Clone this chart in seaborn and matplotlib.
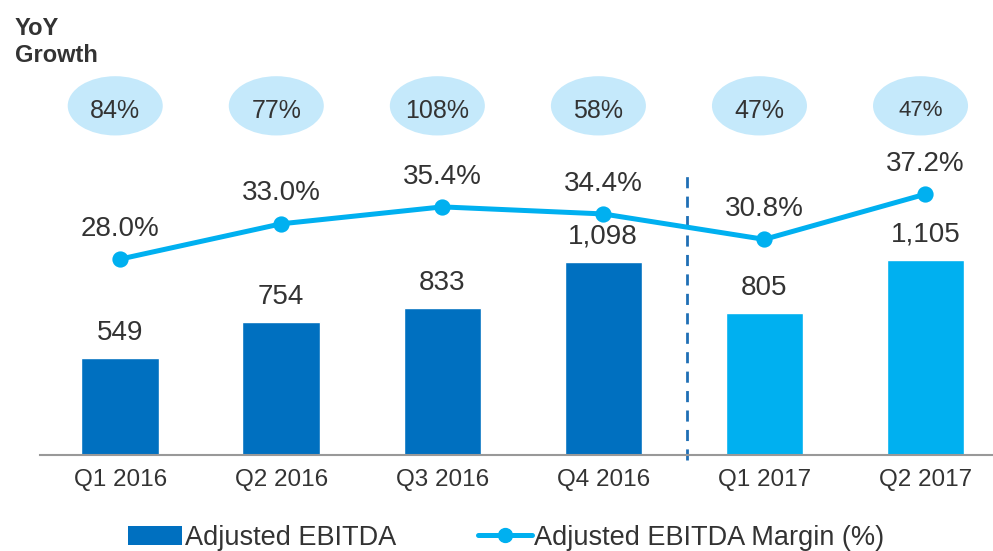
import matplotlib
matplotlib.use("Agg")
import matplotlib.pyplot as plt
import matplotlib.transforms as mtransforms
from matplotlib.patches import Ellipse, Patch
from matplotlib.lines import Line2D
import seaborn as sns

# Chart data
quarters = ["Q1 2016", "Q2 2016", "Q3 2016", "Q4 2016", "Q1 2017", "Q2 2017"]
ebitda = [549, 754, 833, 1098, 805, 1105]
margin = [28.0, 33.0, 35.4, 34.4, 30.8, 37.2]
yoy_growth = ["84%", "77%", "108%", "58%", "47%", "47%"]

dark_blue = "#0070C0"
light_blue = "#00B0F0"
bubble = "#C5E9FB"
text_col = "#333333"

sns.set_theme(style="white")
plt.rcParams["font.family"] = ["Liberation Sans", "DejaVu Sans"]

fig = plt.figure(figsize=(9.93, 5.51), dpi=100)
ax = fig.add_axes([0.0403, 0.1742, 0.9597, 0.7169])

bar_colors = [dark_blue] * 4 + [light_blue] * 2
sns.barplot(x=quarters, y=ebitda, hue=quarters, palette=bar_colors,
            legend=False, width=0.48, saturation=1, ax=ax)

ax2 = ax.twinx()
sns.pointplot(x=quarters, y=margin, order=quarters, color=light_blue,
              markers="o", markersize=9, linewidth=3.6, ax=ax2)

ax.set_ylim(0, 2242)
ax2.set_ylim(0.26, 56.2)
ax.set_xlim(-0.497, 5.42)
ax2.set_xlim(-0.497, 5.42)

# value labels
for i, v in enumerate(ebitda):
    ax.annotate(f"{v:,}", (i, v), xytext=(0, 9), textcoords="offset points",
                ha="center", va="bottom", fontsize=20, color=text_col)
for i, m in enumerate(margin):
    ax2.annotate(f"{m:.1f}%", (i, m), xytext=(0, 12.5), textcoords="offset points",
                 ha="center", va="bottom", fontsize=20, color=text_col)

# YoY growth bubbles
trans = mtransforms.blended_transform_factory(ax.transData, ax.transAxes)
for i, g in enumerate(yoy_growth):
    ax.add_patch(Ellipse((i - 0.03, 0.884), 0.59, 0.150, transform=trans,
                         facecolor=bubble, edgecolor="none", clip_on=False))
    size = 16 if i == 5 else 18
    ax.text(i - 0.03, 0.872, g, transform=trans, ha="center", va="center",
            fontsize=size, color=text_col)

# separator between 2016 and 2017
ax.plot([3.52, 3.52], [-30, 1590], linestyle=(0, (4, 3)), color="#1F6FB5",
        linewidth=2, clip_on=False)

for a in (ax, ax2):
    a.set_ylabel("")
    a.set_yticks([])
    for s in ["top", "left", "right"]:
        a.spines[s].set_visible(False)
ax2.spines["bottom"].set_visible(False)
ax.spines["bottom"].set_color("#999999")
ax.spines["bottom"].set_linewidth(1.5)
ax.tick_params(axis="x", length=0, pad=10, labelsize=17.5, labelcolor=text_col)
ax.set_xlabel("")

fig.text(0.015, 0.948, "YoY", fontsize=17, fontweight="bold", color=text_col, va="center")
fig.text(0.015, 0.899, "Growth", fontsize=17, fontweight="bold", color=text_col, va="center")

handles = [
    Patch(facecolor=dark_blue, edgecolor="none"),
    Line2D([0], [0], color=light_blue, linewidth=3.6, marker="o", markersize=10),
]
fig.legend(handles, ["Adjusted EBITDA", "Adjusted EBITDA Margin (%)"],
           loc="lower center", bbox_to_anchor=(0.51, -0.044), ncol=2,
           frameon=False, fontsize=19.5, handlelength=2.0, handletextpad=0.1,
           columnspacing=3.0, labelcolor=text_col)

fig.savefig("out.png", dpi=100)
